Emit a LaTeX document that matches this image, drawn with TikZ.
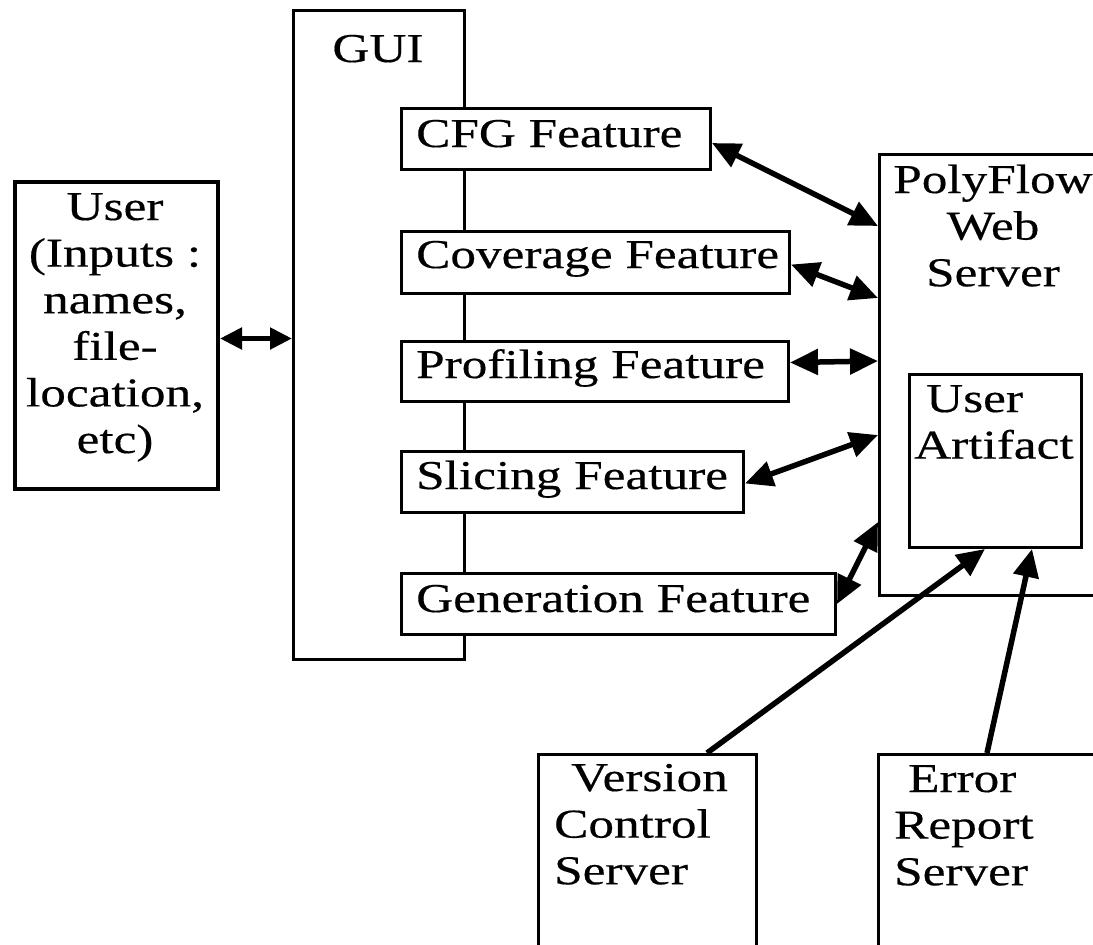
\documentclass[tikz,border=0pt]{standalone}
\usepackage{fontspec}
\setmainfont{Liberation Serif}[FakeStretch=1.25,FakeBold=0.4]
\usetikzlibrary{arrows.meta,calc}
\newcommand\mlines[2]{\begin{tabular}[t]{@{}#1@{}}#2\end{tabular}}
\begin{document}
\begin{tikzpicture}[x=1pt,y=-1pt,
  box/.style={draw, line width=3pt, fill=white, inner sep=0pt, anchor=north west},
  txt/.style={inner sep=0pt, font=\fontsize{41}{46.6}\selectfont},
  link/.style={line width=5.5pt, {Triangle[length=28pt,width=25pt]}-{Triangle[length=28pt,width=25pt]}},
  shortlink/.style={line width=5pt, {Triangle[length=22pt,width=21pt]}-{Triangle[length=22pt,width=21pt]}},
  onelink/.style={line width=5.5pt, -{Triangle[length=28pt,width=25pt]}}]
\useasboundingbox (0,0) rectangle (1093,945);
\fill[white] (0,0) rectangle (1093,945);
\clip (0,0) rectangle (1093,945);

% boxes
\node[box, line width=4pt, minimum width=203pt, minimum height=307pt] (user) at (13,180) {};
\node[box, minimum width=171pt, minimum height=649pt] (gui) at (292,9) {};
\node[box, minimum width=309pt, minimum height=61pt] (cfg) at (400,107) {};
\node[box, minimum width=388pt, minimum height=62pt] (cov) at (400,230) {};
\node[box, minimum width=387pt, minimum height=60pt] (prof) at (400,340) {};
\node[box, minimum width=342pt, minimum height=61pt] (slic) at (400,450) {};
\node[box, minimum width=434pt, minimum height=61pt] (gen) at (400,572) {};
\node[box, minimum width=230pt, minimum height=441pt] (pf) at (878,153) {};
\node[box, minimum width=172pt, minimum height=173pt] (art) at (908,373) {};
\node[box, minimum width=218pt, minimum height=300pt] (ver) at (537,753) {};
\node[box, minimum width=240pt, minimum height=300pt] (err) at (877,753) {};

% texts
\node[txt, anchor=base] (user-t) at (115,220) {\mlines{c}{User\\(Inputs :\\names,\\file-\\location,\\etc)}};
\node[txt, anchor=base] (gui-t) at (378,62) {GUI};
\node[txt, anchor=base west] (cfg-t) at (416,147) {CFG Feature};
\node[txt, anchor=base west] (cov-t) at (416,268) {Coverage Feature};
\node[txt, anchor=base west] (prof-t) at (416,378) {Profiling Feature};
\node[txt, anchor=base west] (slic-t) at (416,489) {Slicing Feature};
\node[txt, anchor=base west] (gen-t) at (416,612) {Generation Feature};
\node[txt, anchor=base] (pf-t) at (993,193) {\mlines{c}{PolyFlow\\Web\\Server}};
\node[txt, anchor=base west] (art-t) at (914,412) {\mlines{l}{\hspace*{12pt}User\\Artifact}};
\node[txt, anchor=base west] (ver-t) at (554,791) {\mlines{l}{\hspace*{17pt}Version\\Control\\Server}};
\node[txt, anchor=base west] (err-t) at (894,792) {\mlines{l}{\hspace*{14pt}Error\\Report\\Server}};

% connectors
\draw[shortlink] ($(user.east)+(0,3)$) -- ($(user.east -| gui.west)+(0,3)$);
\draw[link] ($(cfg.east)+(0,4)$) -- ($(pf.north west)+(0,73)$);
\draw[link] ($(cov.east)+(0,2)$) -- ($(pf.north west)+(0,145)$);
\draw[link] ($(prof.east)+(0,-9)$) -- ($(pf.north west)+(0,208)$);
\draw[link] ($(slic.east)+(0,1.5)$) -- ($(pf.north west)+(0,282)$);
\draw[link] (gen.east) -- ($(pf.north west)+(0,369)$);
\draw[onelink] ($(ver.north west)+(170,0)$) -- ($(art.south west)+(77,0)$);
\draw[onelink] ($(err.north west)+(110,0)$) -- ($(art.south west)+(124,0)$);
\end{tikzpicture}
\end{document}
